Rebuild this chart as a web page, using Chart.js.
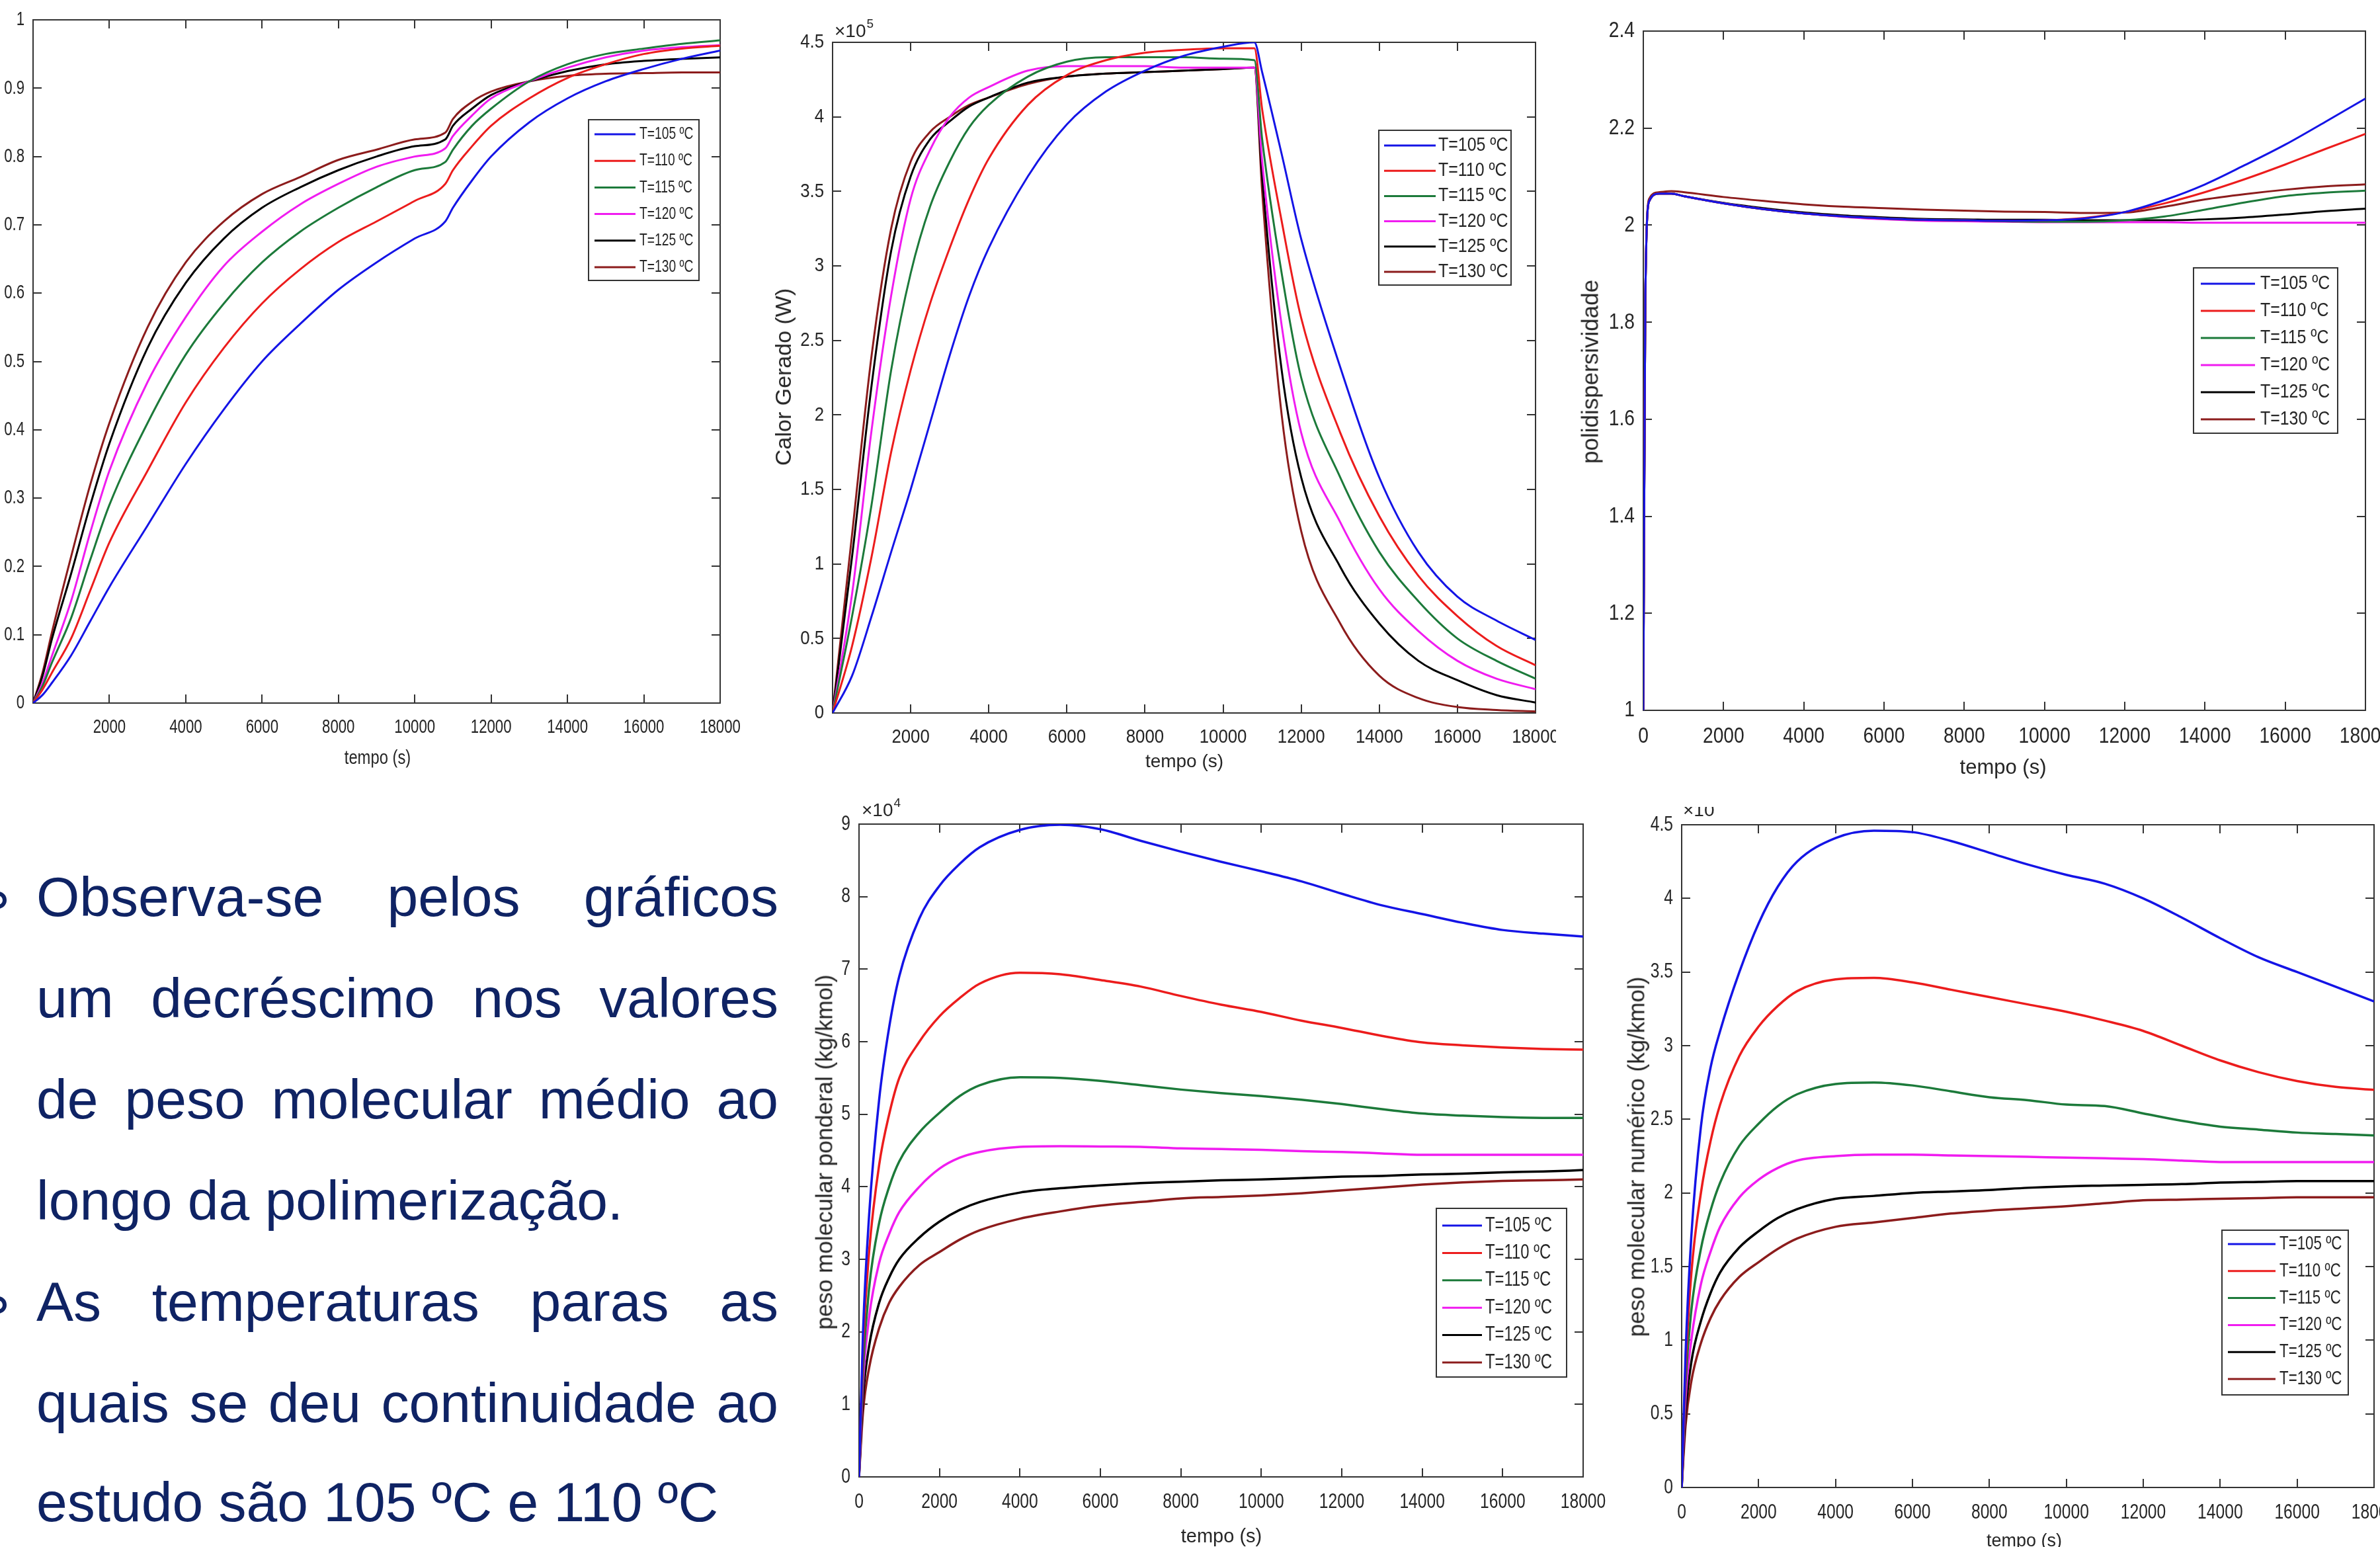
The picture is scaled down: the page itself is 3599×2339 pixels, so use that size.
<!DOCTYPE html>
<html><head><meta charset="utf-8">
<script src="https://cdn.jsdelivr.net/npm/chart.js@4.4.1/dist/chart.umd.min.js"></script>
<style>
html,body{margin:0;padding:0;background:#fff;}
body{width:3599px;height:2339px;position:relative;overflow:hidden;font-family:'Liberation Sans',Arial,sans-serif;}
.panel{position:absolute;overflow:hidden;background:#fff;}
.panel canvas{position:absolute;left:0;top:0;}
.ttl{position:absolute;color:#262626;white-space:nowrap;line-height:1;}
.line{position:absolute;left:55px;width:1122px;color:#0f2364;font-size:84px;line-height:84px;white-space:normal;}
.just{text-align:justify;text-align-last:justify;}
.bul{position:absolute;left:-16px;width:14px;height:14px;border:6px solid #0f2364;border-radius:50%;}
</style></head>
<body>
<div class="line just" style="top:1314px">Observa-se pelos gráficos</div>
<div class="line just" style="top:1467px">um decréscimo nos valores</div>
<div class="line just" style="top:1620px">de peso molecular médio ao</div>
<div class="line" style="top:1773px">longo da polimerização.</div>
<div class="line just" style="top:1926px">As temperaturas paras as</div>
<div class="line just" style="top:2079px">quais se deu continuidade ao</div>
<div class="line" style="top:2229px">estudo são 105 ºC e 110 ºC</div>
<div class="bul" style="top:1348px"></div>
<div class="bul" style="top:1960px"></div>
<script>
// ---------------- DATA ----------------
const serieLabels = ['T=105 ºC','T=110 ºC','T=115 ºC','T=120 ºC','T=125 ºC','T=130 ºC'];

// Chart 1: conversão vs tempo
const tempo1 = [0,250,500,1000,1500,2000,3000,4000,5000,6000,7000,8000,9000,10000,10800,11000,11500,12000,13000,14000,15000,16000,17000,18000];
const conv105 = [0,0.012,0.03,0.07,0.12,0.17,0.26,0.35,0.43,0.50,0.555,0.605,0.645,0.68,0.705,0.725,0.765,0.80,0.85,0.885,0.91,0.928,0.943,0.955];
const conv110 = [0,0.02,0.045,0.095,0.165,0.235,0.34,0.44,0.52,0.585,0.635,0.675,0.705,0.735,0.76,0.78,0.815,0.845,0.885,0.915,0.935,0.95,0.958,0.962];
const conv115 = [0,0.025,0.06,0.125,0.21,0.29,0.41,0.51,0.585,0.645,0.69,0.725,0.755,0.78,0.792,0.81,0.845,0.87,0.91,0.935,0.95,0.958,0.965,0.97];
const conv120 = [0,0.03,0.07,0.15,0.25,0.34,0.47,0.565,0.64,0.69,0.73,0.76,0.785,0.80,0.812,0.83,0.86,0.885,0.91,0.93,0.945,0.955,0.96,0.963];
const conv125 = [0,0.04,0.095,0.19,0.29,0.38,0.52,0.615,0.68,0.725,0.755,0.78,0.80,0.815,0.825,0.845,0.87,0.89,0.91,0.925,0.935,0.94,0.943,0.945];
const conv130 = [0,0.045,0.105,0.215,0.32,0.41,0.55,0.645,0.705,0.745,0.77,0.795,0.81,0.825,0.835,0.855,0.88,0.895,0.91,0.918,0.921,0.922,0.923,0.923];

// Chart 2: Calor Gerado (W), x10^5
const tempo2 = [0,500,1000,1500,2000,2500,3000,3500,4000,5000,6000,7000,8000,9000,10000,10800,11000,11500,12000,13000,14000,15000,16000,17000,18000];
const calor105 = [0,0.25,0.65,1.08,1.5,1.95,2.4,2.8,3.12,3.6,3.95,4.17,4.31,4.41,4.47,4.50,4.30,3.75,3.18,2.32,1.58,1.08,0.78,0.62,0.49];
const calor110 = [0,0.45,1.05,1.75,2.3,2.75,3.12,3.45,3.72,4.08,4.28,4.38,4.43,4.45,4.46,4.46,4.05,3.30,2.65,1.88,1.32,0.92,0.65,0.45,0.32];
const calor115 = [0,0.65,1.4,2.3,2.95,3.4,3.7,3.93,4.08,4.27,4.37,4.40,4.40,4.40,4.39,4.38,3.85,2.95,2.25,1.58,1.08,0.75,0.50,0.35,0.23];
const calor120 = [0,0.8,1.9,2.8,3.45,3.78,4.0,4.13,4.2,4.31,4.34,4.34,4.34,4.33,4.33,4.33,3.70,2.60,1.88,1.28,0.83,0.55,0.35,0.23,0.16];
const calor125 = [0,1.05,2.2,3.1,3.6,3.85,3.97,4.07,4.13,4.23,4.27,4.29,4.30,4.31,4.32,4.33,3.60,2.30,1.58,0.98,0.60,0.35,0.22,0.12,0.07];
const calor130 = [0,1.2,2.4,3.25,3.7,3.9,4.0,4.08,4.13,4.22,4.27,4.29,4.30,4.31,4.32,4.33,3.50,2.00,1.22,0.60,0.25,0.10,0.04,0.02,0.01];

// Chart 3: polidispersividade
const tempo3 = [0,50,150,400,700,1000,2000,3000,4000,5000,6000,7000,8000,9000,10000,11000,12000,13000,14000,15000,16000,17000,18000];
const pd105 = [1,1.85,2.05,2.065,2.065,2.06,2.045,2.033,2.024,2.018,2.014,2.011,2.01,2.009,2.01,2.014,2.027,2.052,2.084,2.124,2.166,2.213,2.261];
const pd110 = [1,1.85,2.05,2.065,2.065,2.06,2.045,2.033,2.024,2.018,2.014,2.011,2.01,2.009,2.01,2.015,2.027,2.045,2.068,2.095,2.125,2.157,2.188];
const pd115 = [1,1.85,2.05,2.065,2.065,2.06,2.045,2.033,2.024,2.018,2.014,2.011,2.01,2.008,2.007,2.007,2.01,2.018,2.032,2.047,2.06,2.067,2.071];
const pd120 = [1,1.85,2.05,2.065,2.065,2.06,2.045,2.033,2.024,2.017,2.012,2.009,2.008,2.007,2.006,2.006,2.006,2.006,2.005,2.005,2.005,2.005,2.005];
const pd125 = [1,1.85,2.05,2.065,2.065,2.06,2.046,2.035,2.026,2.02,2.016,2.013,2.012,2.011,2.011,2.01,2.01,2.01,2.012,2.016,2.022,2.029,2.034];
const pd130 = [1,1.85,2.055,2.068,2.07,2.068,2.058,2.05,2.043,2.038,2.035,2.032,2.03,2.028,2.027,2.025,2.026,2.038,2.053,2.064,2.073,2.08,2.084];

// Charts 4 & 5: peso molecular (x10^4)
const tempo45 = [0,100,250,500,750,1000,1500,2000,2500,3000,4000,5000,6000,7000,8000,9000,10000,11000,12000,13000,14000,15000,16000,17000,18000];
const mw105 = [0,2.0,3.6,5.2,6.2,6.9,7.7,8.15,8.45,8.68,8.92,8.99,8.93,8.77,8.62,8.48,8.35,8.21,8.04,7.88,7.76,7.64,7.54,7.49,7.45];
const mw110 = [0,1.8,3.1,4.3,5.0,5.5,6.0,6.35,6.6,6.8,6.95,6.93,6.85,6.76,6.63,6.51,6.41,6.29,6.19,6.08,5.99,5.95,5.92,5.90,5.89];
const mw115 = [0,1.5,2.6,3.5,4.0,4.35,4.75,5.02,5.25,5.4,5.51,5.50,5.46,5.40,5.34,5.29,5.25,5.20,5.14,5.07,5.01,4.98,4.96,4.95,4.95];
const mw120 = [0,1.3,2.2,2.95,3.35,3.65,4.0,4.25,4.4,4.48,4.55,4.56,4.555,4.55,4.53,4.52,4.51,4.49,4.48,4.46,4.44,4.44,4.44,4.44,4.44];
const mw125 = [0,1.1,1.8,2.4,2.75,3.0,3.3,3.52,3.68,3.79,3.92,3.98,4.02,4.05,4.07,4.09,4.10,4.12,4.14,4.15,4.17,4.18,4.20,4.21,4.23];
const mw130 = [0,0.9,1.5,2.05,2.4,2.62,2.92,3.1,3.27,3.4,3.56,3.66,3.74,3.79,3.84,3.86,3.88,3.91,3.95,3.99,4.03,4.06,4.08,4.09,4.10];

const mn105 = [0,0.9,1.7,2.45,2.85,3.1,3.5,3.83,4.08,4.25,4.41,4.46,4.45,4.39,4.31,4.23,4.16,4.10,4.00,3.87,3.73,3.60,3.50,3.40,3.30];
const mn110 = [0,0.8,1.45,2.0,2.35,2.6,2.93,3.13,3.27,3.37,3.45,3.46,3.43,3.38,3.33,3.28,3.23,3.17,3.10,3.00,2.90,2.82,2.76,2.72,2.70];
const mn115 = [0,0.7,1.2,1.62,1.88,2.07,2.32,2.47,2.59,2.67,2.74,2.75,2.73,2.69,2.65,2.63,2.60,2.59,2.54,2.49,2.45,2.43,2.41,2.40,2.39];
const mn120 = [0,0.6,1.0,1.38,1.6,1.77,1.97,2.09,2.17,2.22,2.25,2.26,2.26,2.255,2.25,2.245,2.24,2.235,2.23,2.22,2.21,2.21,2.21,2.21,2.21];
const mn125 = [0,0.5,0.85,1.13,1.32,1.46,1.63,1.74,1.83,1.89,1.96,1.98,2.0,2.01,2.02,2.035,2.045,2.05,2.055,2.06,2.07,2.075,2.08,2.08,2.08];
const mn130 = [0,0.42,0.72,0.98,1.15,1.27,1.43,1.53,1.62,1.69,1.77,1.80,1.83,1.86,1.88,1.895,1.91,1.93,1.95,1.955,1.96,1.965,1.97,1.97,1.97];

// ---------------- STYLE ----------------
const serieColors = ['#1414e6','#ec1c1c','#1c7a3a','#f01cf0','#000000','#8c1c1c'];
const FONT = "'Liberation Sans',Arial,sans-serif";
const AXIS = '#333333', TXT = '#262626';

const charts = [
  {div:[0,0,1160,1180], area:[50,30,1089,1063], tempo:tempo1, series:[conv105,conv110,conv115,conv120,conv125,conv130],
   y:[0,1,0.1], hideX0:true, tick:30, sx:0.74, xTitle:{cx:571,cy:1145,size:29,sx:0.82},
   legend:{box:[890,181,1057,424], line:[899,961], textX:967, row0:203, step:40.2, size:26}, lw:3},
  {div:[1160,0,2353,1180], area:[1259,64,2322,1078], tempo:tempo2, series:[calor105,calor110,calor115,calor120,calor125,calor130],
   y:[0,4.5,0.5], hideX0:true, tick:30, sx:0.86, xTitle:{cx:1791,cy:1151,size:28,sx:1},
   yTitle:{text:'Calor Gerado (W)',cx:1184,cy:570,size:34}, exp:{sup:'5',x:1262,base:57,size:28},
   legend:{box:[2085,197,2285,431], line:[2093,2171], textX:2175, row0:220, step:38.2, size:29}, lw:3},
  {div:[2353,0,3599,1180], area:[2485,47,3577,1074], tempo:tempo3, series:[pd105,pd110,pd115,pd120,pd125,pd130],
   y:[1,2.4,0.2], hideX0:false, tick:34, sx:0.83, xTitle:{cx:3029,cy:1159,size:31,sx:1},
   yTitle:{text:'polidispersividade',cx:2404,cy:562,size:35},
   legend:{box:[3317,405,3535,655], line:[3328,3410], textX:3418, row0:429, step:41, size:30}, lw:3},
  {div:[1190,1180,2429,2339], area:[1299,1246,2394,2233], tempo:tempo45, series:[mw105,mw110,mw115,mw120,mw125,mw130],
   y:[0,9,1], hideX0:false, tick:32, sx:0.77, xTitle:{cx:1847,cy:2322,size:29,sx:1},
   yTitle:{text:'peso molecular ponderal (kg/kmol)',cx:1246,cy:1742,size:35}, exp:{sup:'4',x:1303,base:1235,size:28},
   legend:{box:[2172,1827,2369,2082], line:[2181,2241], textX:2246, row0:1853, step:41.4, size:31}, lw:3.5},
  {div:[2429,1220,3599,2339], area:[2543,1247,3590,2249], tempo:tempo45, series:[mn105,mn110,mn115,mn120,mn125,mn130],
   y:[0,4.5,0.5], hideX0:false, tick:32, sx:0.77, xTitle:{cx:3061,cy:2329,size:27,sx:1},
   yTitle:{text:'peso molecular numérico (kg/kmol)',cx:2474,cy:1749,size:35}, exp:{sup:'4',x:2545,base:1235,size:28},
   legend:{box:[3360,1860,3551,2109], line:[3369,3441], textX:3447, row0:1881, step:40.8, size:29}, lw:3.5}
];

const fmt = v => String(parseFloat(Number(v).toFixed(3)));

const boxPlugin = {
  id:'matlabBox',
  beforeDatasetsDraw(chart){
    const {ctx, chartArea:a, scales:{x,y}} = chart;
    ctx.save();
    ctx.strokeStyle = AXIS; ctx.lineWidth = 2;
    ctx.strokeRect(a.left, a.top, a.right-a.left, a.bottom-a.top);
    const L = 13;
    ctx.beginPath();
    x.ticks.forEach(t => { const p = Math.round(x.getPixelForValue(t.value));
      ctx.moveTo(p,a.bottom); ctx.lineTo(p,a.bottom-L); ctx.moveTo(p,a.top); ctx.lineTo(p,a.top+L); });
    y.ticks.forEach(t => { const p = Math.round(y.getPixelForValue(t.value));
      ctx.moveTo(a.left,p); ctx.lineTo(a.left+L,p); ctx.moveTo(a.right,p); ctx.lineTo(a.right-L,p); });
    ctx.stroke();
    ctx.restore();
  }
};

const legendPlugin = {
  id:'boxLegend',
  afterDatasetsDraw(chart, args, o){
    if(!o || !o.box) return;
    const ctx = chart.ctx; ctx.save();
    const b = o.box;
    ctx.fillStyle = '#fff'; ctx.fillRect(b[0],b[1],b[2]-b[0],b[3]-b[1]);
    ctx.strokeStyle = AXIS; ctx.lineWidth = 2; ctx.strokeRect(b[0],b[1],b[2]-b[0],b[3]-b[1]);
    ctx.font = o.size + 'px ' + FONT;
    ctx.textBaseline = 'middle'; ctx.textAlign = 'left';
    chart.data.datasets.forEach((ds,i) => {
      const yy = o.row0 + i*o.step;
      ctx.strokeStyle = ds.borderColor; ctx.lineWidth = 3;
      ctx.beginPath(); ctx.moveTo(o.line[0],yy); ctx.lineTo(o.line[1],yy); ctx.stroke();
      ctx.fillStyle = TXT; ctx.fillText(ds.label, o.textX, yy);
    });
    ctx.restore();
  }
};

function addText(panel, txt, left, top, size, transform){
  const d = document.createElement('div');
  d.className = 'ttl';
  d.textContent = txt;
  d.style.left = left + 'px'; d.style.top = top + 'px'; d.style.fontSize = size + 'px';
  if (transform) d.style.transform = transform;
  panel.appendChild(d);
  return d;
}

charts.forEach(c => {
  const [dx0,dy0,dx1,dy1] = c.div; const W = dx1-dx0, H = dy1-dy0;
  const panel = document.createElement('div'); panel.className = 'panel';
  panel.style.cssText = `left:${dx0}px;top:${dy0}px;width:${W}px;height:${H}px;`;
  document.body.appendChild(panel);
  const cv = document.createElement('canvas');
  cv.width = W; cv.height = H; cv.style.width = W+'px'; cv.style.height = H+'px';
  panel.appendChild(cv);
  // condensed lettering (MATLAB export is horizontally squeezed)
  const cx2d = cv.getContext('2d');
  const origFill = cx2d.fillText.bind(cx2d);
  cx2d.fillText = function(t, x, y){ this.save(); this.translate(x, y); this.scale(c.sx, 1); origFill(t, 0, 0); this.restore(); };

  const L = c.area[0]-dx0, T = c.area[1]-dy0, R = c.area[2]-dx0, B = c.area[3]-dy0;

  addText(panel, 'tempo (s)', c.xTitle.cx-dx0, c.xTitle.cy-dy0, c.xTitle.size, `translate(-50%,-50%) scaleX(${c.xTitle.sx})`);
  if (c.yTitle) addText(panel, c.yTitle.text, c.yTitle.cx-dx0, c.yTitle.cy-dy0, c.yTitle.size, 'translate(-50%,-50%) rotate(-90deg)');
  if (c.exp) {
    const e = addText(panel, '×10', c.exp.x-dx0, c.exp.base-dy0-24, c.exp.size, null);
    const s = document.createElement('span'); s.textContent = c.exp.sup;
    s.style.cssText = 'font-size:19px;position:relative;top:-14px;margin-left:1px;';
    e.appendChild(s);
  }

  const lg = c.legend;
  const legendOpts = {box:[lg.box[0]-dx0,lg.box[1]-dy0,lg.box[2]-dx0,lg.box[3]-dy0],
    line:[lg.line[0]-dx0,lg.line[1]-dx0], textX:lg.textX-dx0, row0:lg.row0-dy0, step:lg.step, size:lg.size};

  new Chart(cv, {
    type:'line',
    data:{ datasets: c.series.map((vals,i) => ({
      label: serieLabels[i],
      data: c.tempo.map((t,k) => ({x:t, y:vals[k]})),
      borderColor: serieColors[i], backgroundColor: serieColors[i],
      borderWidth: c.lw, pointRadius:0, fill:false, cubicInterpolationMode:'monotone'
    }))},
    options:{
      responsive:false, animation:false, devicePixelRatio:1,
      layout:{padding:{left:0, top:T, right:W-R, bottom:0}},
      plugins:{legend:{display:false}, tooltip:{enabled:false}, boxLegend: legendOpts},
      scales:{
        x:{type:'linear', min:0, max:18000,
           grid:{display:false, drawTicks:false}, border:{display:false},
           ticks:{stepSize:2000, autoSkip:false, maxRotation:0, padding:19, color:TXT,
                  font:{family:FONT, size:c.tick},
                  callback:v => (c.hideX0 && v===0) ? '' : fmt(v)},
           afterFit(s){ s.height = H - B; s.paddingLeft = 0; s.paddingRight = 0; }},
        y:{type:'linear', min:c.y[0], max:c.y[1],
           grid:{display:false, drawTicks:false}, border:{display:false},
           ticks:{stepSize:c.y[2], autoSkip:false, padding:13, color:TXT,
                  font:{family:FONT, size:c.tick}, callback:v => fmt(v)},
           afterFit(s){ s.width = L; s.paddingTop = 0; s.paddingBottom = 0; }}
      }
    },
    plugins:[boxPlugin, legendPlugin]
  });
});
</script>
</body></html>
